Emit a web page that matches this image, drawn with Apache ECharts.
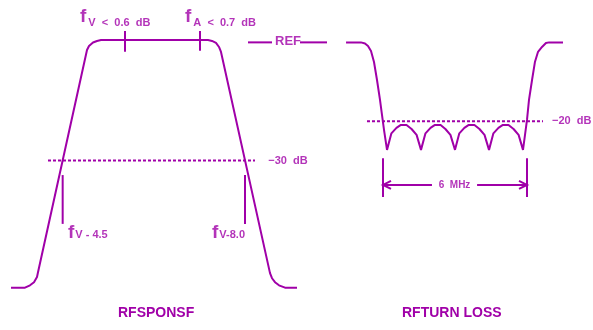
<!DOCTYPE html>
<html>
<head>
<meta charset="utf-8">
<script src="https://cdn.jsdelivr.net/npm/echarts@6/dist/echarts.min.js"></script>
<style>
  html, body { margin: 0; padding: 0; background: #fff; }
  #chart { width: 593px; height: 330px; }
</style>
</head>
<body>
<div id="chart"></div>
<script>
// Channel filter response (MHz relative to the visual carrier fV, dB relative to REF)
const respFreq = [-6.84, -6.0, -5.7, -5.46, -5.28, -5.22, -2.28, -2.16, -1.92, -1.68, -1.44,
                  4.98, 5.22, 5.46, 5.64, 5.76, 8.7, 8.82, 9.0, 9.24, 9.6, 10.32];
const respDb   = [-62.3, -62.3, -61.7, -60.9, -59.6, -58.4, -1.93, -0.91, -0.03, 0.36, 0.61,
                  0.61, 0.36, -0.15, -1.17, -2.44, -58.6, -59.9, -60.9, -61.7, -62.3, -62.3];

// Return loss (MHz from the lower channel edge, dB)
const rlFreq = [-1.54, -0.92, -0.75, -0.625, -0.5, -0.375, -0.25, -0.125, -0.042, 0.042,
                0.167, 0.35, 0.56, 0.73, 0.98, 1.19, 1.40,
                1.583, 1.77, 1.98, 2.15, 2.40, 2.60, 2.81,
                3.0, 3.18, 3.39, 3.56, 3.81, 4.02, 4.23,
                4.417, 4.60, 4.81, 4.98, 5.23, 5.44, 5.65,
                5.833, 5.917, 6.0, 6.083, 6.21, 6.33, 6.46, 6.625, 6.79, 6.92, 7.5];
const rlDb   = [0, 0, -0.28, -0.91, -2.18, -4.98, -9.55, -14.6, -18.4, -22.2,
                -27.3, -23.1, -21.7, -21.0, -21.0, -22.0, -23.5,
                -27.3, -23.1, -21.7, -21.0, -21.0, -22.0, -23.5,
                -27.3, -23.1, -21.7, -21.0, -21.0, -22.0, -23.5,
                -27.3, -23.1, -21.7, -21.0, -21.0, -22.0, -23.5,
                -27.3, -23.5, -19.7, -14.6, -9.55, -5.0, -2.4, -1.17, -0.15, 0, 0];

// Reference levels
const respLevel = -30;            // dB, response reference
const respLevelSpan = [-4.62, 7.8];
const rlLevel = -20;              // dB, return loss limit
const rlLevelSpan = [-0.667, 6.667];
const refSegments = [[-5.625, -4.625], [-3.458, -2.333]];   // REF legend line pieces

// Marker frequencies
const passMarks = [0, 4.5];           // fV, fA
const passMarkTop = 2.9;
const passMarkBottom = [-2.4, -2.1];
const stopMarks = [-3.74, 7.2];       // -30 dB crossings
const stopMarkDb = [-33.7, -46.1];
const channelEdges = [0, 6];          // 6 MHz channel
const channelMarkDb = [-29.4, -39.3];
const arrowDb = -36.2;
const arrowGap = [2.04, 3.92];

const PURPLE = '#a000a8';
const FONT = 'Liberation Sans';

const zip = (xs, ys) => xs.map((x, i) => [x, ys[i]]);

function seg(xi, pts, extra) {
  return Object.assign({
    type: 'line', xAxisIndex: xi, yAxisIndex: xi, data: pts,
    symbol: 'none', silent: true, animation: false,
    lineStyle: { color: PURPLE, width: 2 }
  }, extra || {});
}

function label(xi, x, y, fmt, align, vAlign, size, rich) {
  return {
    type: 'scatter', xAxisIndex: xi, yAxisIndex: xi, silent: true, animation: false,
    symbolSize: 0, data: [[x, y]],
    label: {
      show: true, position: [0, 0], align: align, verticalAlign: vAlign,
      formatter: fmt, color: PURPLE, fontFamily: FONT, fontWeight: 'bold', fontSize: size,
      rich: rich || {}
    }
  };
}

const fStyle = { fontSize: 19, fontFamily: FONT, color: PURPLE, verticalAlign: 'bottom', lineHeight: 20 };
const topRich = {
  f: fStyle,
  s: { fontSize: 11, fontFamily: FONT, fontWeight: 'bold', color: PURPLE, verticalAlign: 'bottom', lineHeight: 20, padding: [0, 0, -2, 2] },
  t: { fontSize: 11, fontFamily: FONT, fontWeight: 'bold', color: PURPLE, verticalAlign: 'bottom', lineHeight: 20, padding: [0, 0, -2, 0] }
};
const lowRich = {
  f: fStyle,
  s: { fontSize: 11, fontFamily: FONT, fontWeight: 'bold', color: PURPLE, verticalAlign: 'middle', lineHeight: 20, padding: [5, 0, 0, 1] }
};

const chevron = 'path://M8,0L0,4L8,8';
const arrowStyle = { symbol: chevron, itemStyle: { color: 'rgba(0,0,0,0)', borderColor: PURPLE, borderWidth: 2 } };

const series = [
  seg(0, zip(respFreq, respDb)),
  seg(1, zip(rlFreq, rlDb)),
  seg(0, [[respLevelSpan[0], respLevel], [respLevelSpan[1], respLevel]], { lineStyle: { color: PURPLE, width: 2, type: [3, 2] } }),
  seg(1, [[rlLevelSpan[0], rlLevel], [rlLevelSpan[1], rlLevel]], { lineStyle: { color: PURPLE, width: 2, type: [3, 2] } }),
  ...refSegments.map(s => seg(1, [[s[0], 0], [s[1], 0]])),
  ...passMarks.map((f, i) => seg(0, [[f, passMarkTop], [f, passMarkBottom[i]]])),
  ...stopMarks.map(f => seg(0, [[f, stopMarkDb[0]], [f, stopMarkDb[1]]])),
  ...channelEdges.map(f => seg(1, [[f, channelMarkDb[0]], [f, channelMarkDb[1]]])),
  seg(1, [
    { value: [channelEdges[0], arrowDb], symbol: chevron, symbolSize: [8, 8], symbolOffset: [4, 0] },
    { value: [arrowGap[0], arrowDb], symbol: 'none' }
  ], arrowStyle),
  seg(1, [
    { value: [arrowGap[1], arrowDb], symbol: 'none' },
    { value: [channelEdges[1], arrowDb], symbol: chevron, symbolSize: [8, 8], symbolRotate: 180, symbolOffset: [-4, 0] }
  ], arrowStyle),

  label(0, -2.7, 4.0, '{f|f}{s|V}{t|  <  0.6  dB}', 'left', 'bottom', 11, topRich),
  label(0, 3.6, 4.0, '{f|f}{s|A}{t|  <  0.7  dB}', 'left', 'bottom', 11, topRich),
  label(0, -3.42, -45.7, '{f|f}{s|V - 4.5}', 'left', 'top', 11, lowRich),
  label(0, 5.22, -45.7, '{f|f}{s|V-8.0}', 'left', 'top', 11, lowRich),
  label(0, 8.6, respLevel, '\u221230  dB', 'left', 'middle', 11),
  label(1, 7.04, rlLevel, '\u221220  dB', 'left', 'middle', 11),
  label(1, -4.5, 0.2, 'REF', 'left', 'middle', 13),
  label(1, (arrowGap[0] + arrowGap[1]) / 2, arrowDb, '6  MHz', 'center', 'middle', 10)
];

const chart = echarts.init(document.getElementById('chart'), null, { renderer: 'canvas' });
chart.setOption({
  backgroundColor: '#ffffff',
  animation: false,
  grid: [
    { left: 0, top: 3, width: 300, height: 315 },
    { left: 239, top: 3, width: 354, height: 315 }
  ],
  xAxis: [
    { type: 'value', gridIndex: 0, min: -7.5, max: 10.5, show: false },
    { type: 'value', gridIndex: 1, min: -6, max: 8.75, show: false }
  ],
  yAxis: [
    { type: 'value', gridIndex: 0, min: -70, max: 10, show: false },
    { type: 'value', gridIndex: 1, min: -70, max: 10, show: false }
  ],
  graphic: [
    { type: 'text', left: 118, top: 306, style: { text: 'RFSPONSF', fill: PURPLE, font: 'bold 14px "Liberation Sans"' } },
    { type: 'text', left: 402, top: 306, style: { text: 'RFTURN LOSS', fill: PURPLE, font: 'bold 14px "Liberation Sans"' } }
  ],
  series: series
});
</script>
</body>
</html>
